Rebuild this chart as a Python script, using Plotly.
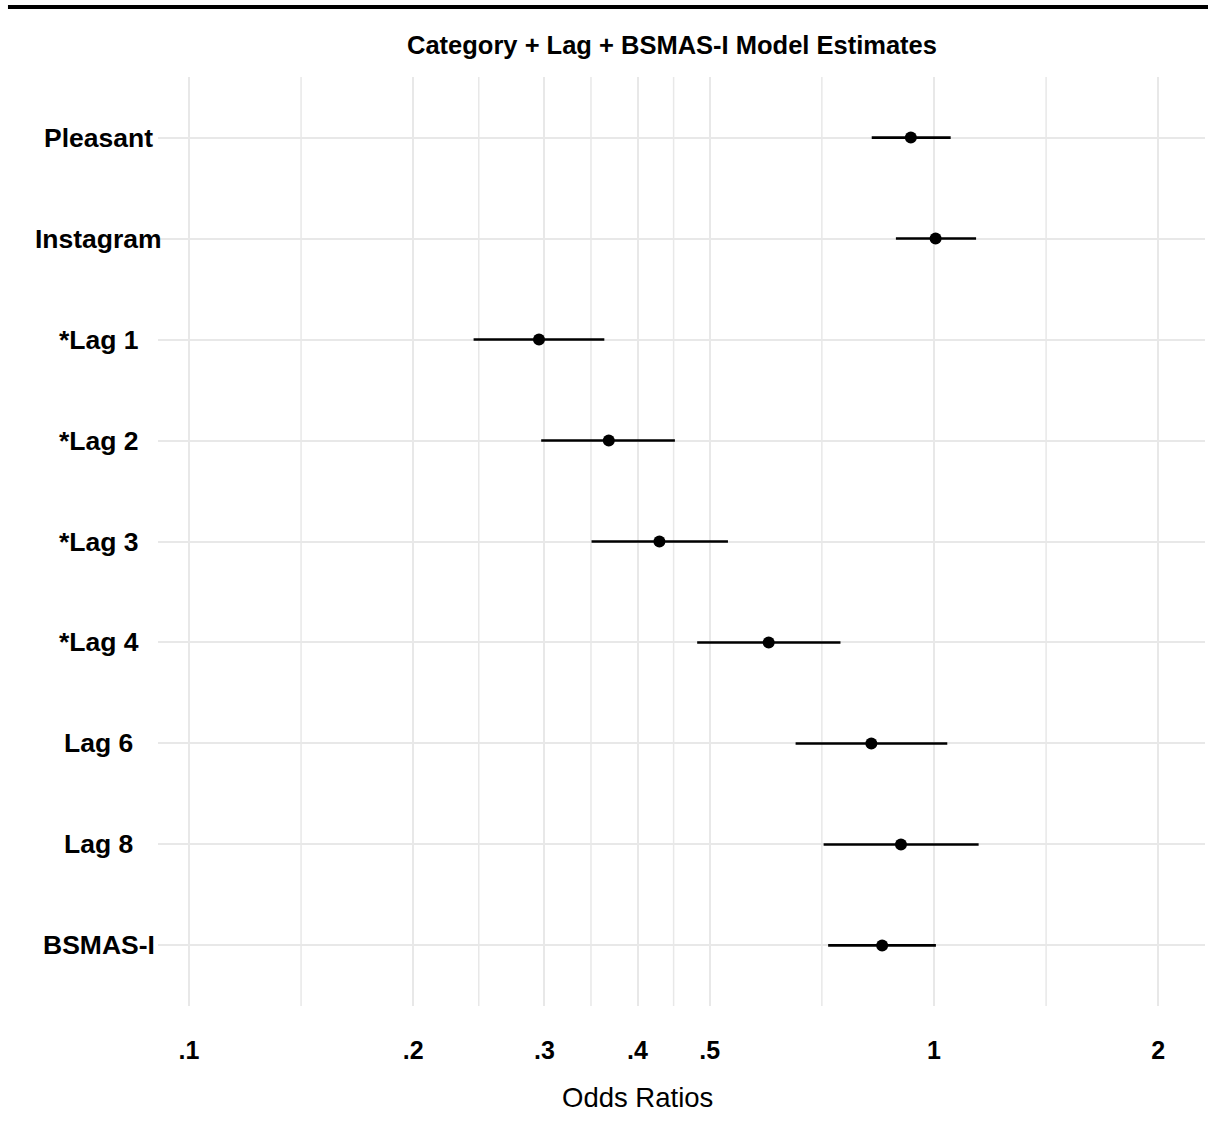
import plotly.graph_objects as go

# Model terms, top to bottom
terms = ["Pleasant", "Instagram", "*Lag 1", "*Lag 2", "*Lag 3", "*Lag 4", "Lag 6", "Lag 8", "BSMAS-I"]
# Odds ratio estimates with 95% confidence bounds
odds_ratio = [0.931, 1.005, 0.295, 0.366, 0.428, 0.600, 0.824, 0.903, 0.852]
ci_low = [0.825, 0.889, 0.241, 0.297, 0.347, 0.481, 0.652, 0.711, 0.721]
ci_high = [1.053, 1.139, 0.361, 0.449, 0.529, 0.749, 1.042, 1.148, 1.006]

# Axis breaks: labelled majors plus unlabelled geometric midpoints
major_breaks = [0.1, 0.2, 0.3, 0.4, 0.5, 1, 2]
major_labels = [".1", ".2", ".3", ".4", ".5", "1", "2"]
minor_breaks = [0.1414, 0.2449, 0.3464, 0.4472, 0.7071, 1.4142]

FONT = "Liberation Sans, Arial, Helvetica, sans-serif"

fig = go.Figure()

# Confidence interval segments
seg_x, seg_y = [], []
for t, lo, hi in zip(terms, ci_low, ci_high):
    seg_x += [lo, hi, None]
    seg_y += [t, t, None]
fig.add_trace(go.Scatter(
    x=seg_x, y=seg_y, mode="lines",
    line=dict(color="black", width=2.6),
    hoverinfo="skip", showlegend=False,
))

# Point estimates
fig.add_trace(go.Scatter(
    x=odds_ratio, y=terms, mode="markers",
    marker=dict(color="black", size=12),
    showlegend=False,
))

# Minor vertical grid lines
for v in minor_breaks:
    fig.add_shape(type="line", xref="x", yref="paper", x0=v, x1=v, y0=0, y1=1,
                  line=dict(color="#e8e8e8", width=1.5), layer="below")

# Category labels, centred in the left margin
for t in terms:
    fig.add_annotation(x=-0.0565, xref="paper", y=t, yref="y", text=t,
                       showarrow=False, xanchor="center", yanchor="middle",
                       font=dict(family=FONT, size=26.5, color="black", weight="bold"))

# Heavy rule across the top
fig.add_shape(type="line", xref="paper", yref="paper",
              x0=-0.1433, x1=1.01, y0=1.0753, y1=1.0753,
              line=dict(color="black", width=4))

# Axis title
fig.add_annotation(x=0.4575, xref="paper", y=-0.099, yref="paper", text="Odds Ratios",
                   showarrow=False, xanchor="center", yanchor="middle",
                   font=dict(family=FONT, size=27.5, color="black"))

fig.update_layout(
    width=1208, height=1134,
    margin=dict(l=158, r=3, t=77, b=128),
    paper_bgcolor="white", plot_bgcolor="white",
    title=dict(text="<b>Category + Lag + BSMAS-I Model Estimates</b>",
               x=672 / 1208, xanchor="center", y=1 - 45 / 1134, yanchor="middle",
               font=dict(family=FONT, size=25.5, color="black")),
    xaxis=dict(
        type="log", range=[-1.0416, 0.3638],
        tickmode="array", tickvals=major_breaks, ticktext=major_labels,
        tickfont=dict(family=FONT, size=25, color="black", weight="bold"),
        ticks="outside", ticklen=22, tickcolor="rgba(0,0,0,0)",
        showgrid=True, gridcolor="#e8e8e8", gridwidth=1.5,
        zeroline=False, showline=False,
    ),
    yaxis=dict(
        type="category", categoryorder="array", categoryarray=terms,
        range=[len(terms) - 0.4, -0.6],
        showticklabels=False,
        showgrid=True, gridcolor="#e8e8e8", gridwidth=1.5,
        zeroline=False, showline=False,
    ),
)

fig.write_html("out.html")
